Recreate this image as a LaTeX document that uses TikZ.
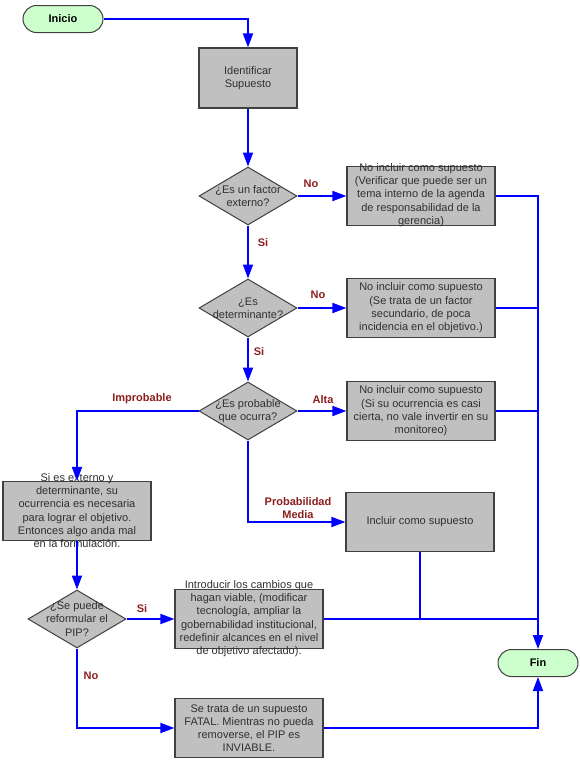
\documentclass[tikz,border=0pt]{standalone}
\usepackage{fontspec}
\setmainfont{Liberation Sans}
\usetikzlibrary{arrows.meta,shapes.geometric,shapes.misc}
\definecolor{boxgray}{HTML}{C0C0C0}
\definecolor{edgegray}{HTML}{404040}
\definecolor{txtgray}{HTML}{303030}
\definecolor{lblred}{HTML}{8B1E1E}
\definecolor{termgreen}{HTML}{CCFFCC}
\definecolor{flowblue}{HTML}{0000FF}
\tikzset{
  procbox/.style={draw=edgegray, line width=1.2pt, fill=boxgray, minimum width=148pt, minimum height=59pt, inner sep=0pt},
  decbox/.style={diamond, draw=edgegray, line width=1pt, fill=boxgray, minimum width=98pt, minimum height=58pt, inner sep=0pt},
  termbox/.style={rounded rectangle, draw=edgegray, line width=1pt, fill=termgreen, minimum width=80pt, minimum height=27pt, inner sep=0pt, font=\fontsize{11}{13.3}\selectfont\bfseries},
  boxtext/.style={align=center, text=txtgray, inner sep=0pt, font=\fontsize{11}{13.3}\selectfont},
  lbl/.style={text=lblred, align=center, inner sep=0pt, font=\fontsize{11}{12.3}\selectfont\bfseries},
  flow/.style={draw=flowblue, line width=1.8pt},
  arr/.style={flow, -{Triangle[length=14pt,width=10pt]}}
}
\begin{document}
\begin{tikzpicture}[x=1pt,y=-1pt]
\useasboundingbox (0,0) rectangle (580,761);
% terminals
\node[termbox] (ini) at (63,19) {Inicio};
\node[termbox] (fin) at (538,663) {Fin};
% process boxes
\node[procbox, minimum width=98pt, minimum height=60pt] (idf) at (248,78) {};
\node[boxtext] at (idf) {Identificar\\Supuesto};
\node[procbox] (b1) at (421,196) {};
\node[boxtext] at (421,195) {No incluir como supuesto\\(Verificar que puede ser un\\tema interno de la agenda\\de responsabilidad de la\\gerencia)};
\node[procbox] (b2) at (421,308) {};
\node[boxtext] at (b2) {No incluir como supuesto\\(Se trata de un factor\\secundario, de poca\\incidencia en el objetivo.)};
\node[procbox] (b3) at (421,411) {};
\node[boxtext] at (b3) {No incluir como supuesto\\(Si su ocurrencia es casi\\cierta, no vale invertir en su\\monitoreo)};
\node[procbox] (b4) at (77,511) {};
\node[boxtext] at (77,510.5) {Si es externo y\\determinante, su\\ocurrencia es necesaria\\para lograr el objetivo.\\Entonces algo anda mal\\en la formulación.};
\node[procbox] (b5) at (420,522) {};
\node[boxtext] at (b5) {Incluir como supuesto};
\node[procbox] (b6) at (249,619) {};
\node[boxtext] at (249,618.5) {Introducir los cambios que\\hagan viable, (modificar\\tecnología, ampliar la\\gobernabilidad institucional,\\redefinir alcances en el nivel\\de objetivo afectado).};
\node[procbox] (b7) at (249,728) {};
\node[boxtext] at (b7) {Se trata de un supuesto\\FATAL. Mientras no pueda\\removerse, el PIP es\\INVIABLE.};
% decisions
\node[decbox] (d1) at (248,196) {};
\node[boxtext] at (d1) {¿Es un factor\\externo?};
\node[decbox] (d2) at (248,308) {};
\node[boxtext] at (d2) {¿Es\\determinante?};
\node[decbox] (d3) at (248,411) {};
\node[boxtext] at (d3) {¿Es probable\\que ocurra?};
\node[decbox] (d4) at (77,619) {};
\node[boxtext] at (d4) {¿Se puede\\reformular el\\PIP?};
% connectors
\draw[arr] (ini.east) -| (idf.north);
\draw[arr] (idf.south) -- (d1.north);
\draw[arr] (d1.east) -- (b1.west);
\draw[arr] (d1.south) -- (d2.north);
\draw[arr] (d2.east) -- (b2.west);
\draw[arr] (d2.south) -- (d3.north);
\draw[arr] (d3.east) -- (b3.west);
\draw[arr] (d3.west) -| (b4.north);
\draw[arr] (d3.south) |- (b5.west);
\draw[arr] (b4.south) -- (d4.north);
\draw[arr] (d4.east) -- (b6.west);
\draw[arr] (d4.south) |- (b7.west);
\draw[arr] (b1.east) -| (fin.north);
\draw[flow] (b2.east) -- (b2.east -| fin.north);
\draw[flow] (b3.east) -- (b3.east -| fin.north);
\draw[flow] (b6.east) -- (b6.east -| fin.north);
\draw[flow] (b5.south) -- (b5.south |- b6.east);
\draw[arr] (b7.east) -| (fin.south);
% labels
\node[lbl] at (311,184) {No};
\node[lbl] at (263,243) {Si};
\node[lbl] at (318,295) {No};
\node[lbl] at (259,352) {Si};
\node[lbl] at (323,400) {Alta};
\node[lbl] at (142,399) {Improbable};
\node[lbl] at (298,508) {Probabilidad\\Media};
\node[lbl] at (142,609) {Si};
\node[lbl] at (91,676) {No};
\end{tikzpicture}
\end{document}
